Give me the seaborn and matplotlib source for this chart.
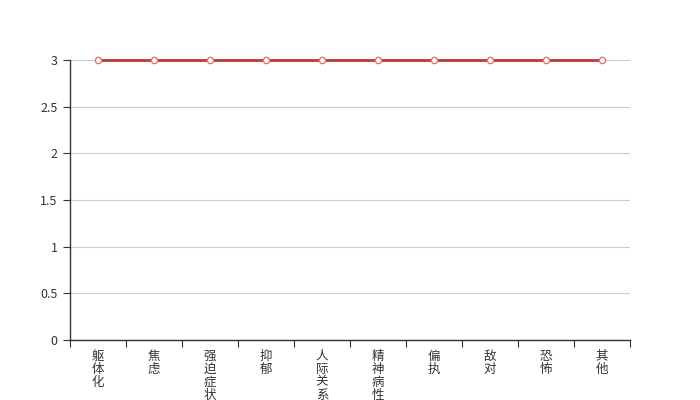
import numpy as np
import pandas as pd
import seaborn as sns
import matplotlib
matplotlib.use('Agg')
import matplotlib.pyplot as plt
from matplotlib.ticker import FixedLocator

# categories and values
categories = ['躯体化', '焦虑', '强迫症状', '抑郁', '人际关系敏感',
              '精神病性', '偏执', '敌对', '恐怖', '其他']
scores = [3, 3, 3, 3, 3, 3, 3, 3, 3, 3]
y_ticks = [0, 0.5, 1, 1.5, 2, 2.5, 3]
y_tick_labels = ['0', '0.5', '1', '1.5', '2', '2.5', '3']

sns.set_style('white')
plt.rcParams['font.family'] = ['Noto Sans CJK SC', 'DejaVu Sans']

df = pd.DataFrame({'cat': categories, 'score': scores})

fig = plt.figure(figsize=(7, 4), dpi=100)
ax = fig.add_axes([0.1, 0.15, 0.8, 0.70])

sns.lineplot(data=df, x='cat', y='score', ax=ax, color='#c23531', linewidth=2,
             marker='o', markersize=4.5, markerfacecolor='white',
             markeredgecolor='#d97777', markeredgewidth=1, zorder=3,
             clip_on=False)

ax.set_xlim(-0.5, len(categories) - 0.5)
ax.set_ylim(0, 3)
ax.set_yticks(y_ticks)
ax.set_yticklabels(y_tick_labels)
ax.yaxis.grid(True, color='#cccccc', linewidth=0.8)
ax.set_axisbelow(True)

# vertical stacked labels, ticks sit between categories
ax.set_xticks(range(len(categories)))
ax.set_xticklabels(['\n'.join(c) for c in categories], linespacing=1.0,
                   va='top', fontsize=9, color='#333333')
ax.tick_params(axis='x', which='major', bottom=True, length=0, pad=7)
ax.xaxis.set_minor_locator(FixedLocator(np.arange(-0.5, len(categories), 1)))
ax.tick_params(axis='x', which='minor', bottom=True, length=5, width=0.8,
               color='#333333', direction='out')
ax.tick_params(axis='y', length=5, width=0.8, color='#333333', labelsize=9,
               labelcolor='#333333', pad=4, direction='out', left=True)

for s in ['top', 'right']:
    ax.spines[s].set_visible(False)
for s in ['left', 'bottom']:
    ax.spines[s].set_color('#333333')
    ax.spines[s].set_linewidth(1)

ax.set_xlabel('')
ax.set_ylabel('')

fig.savefig('out.png', dpi=100)
